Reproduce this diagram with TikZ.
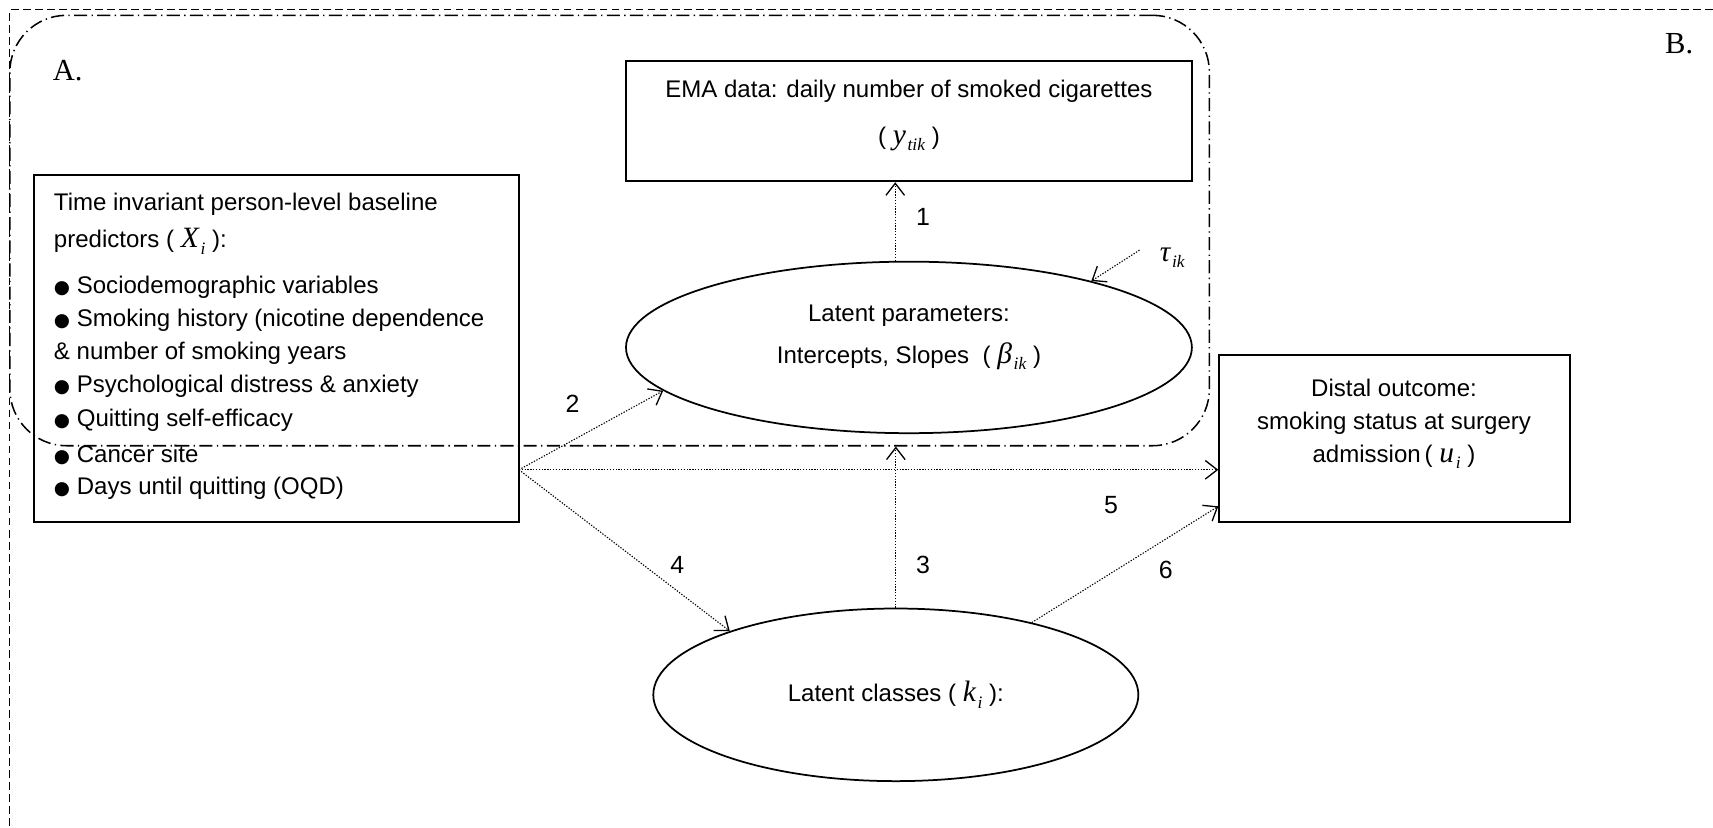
\documentclass[tikz,border=0pt]{standalone}
\usepackage{fontspec}
\setmainfont{Liberation Sans}
\newfontfamily\tnr{Liberation Serif}
\newfontfamily\dejavu{DejaVu Sans}
\usetikzlibrary{shapes.geometric,arrows.meta,calc}
\newcommand\mv[2]{{\tnr\itshape\fontsize{13.5}{13.5}\selectfont #1}\kern0.8pt\raisebox{-0.5ex}{\tnr\itshape\fontsize{8}{8}\selectfont #2}}
\newcommand\blt{{\dejavu\fontsize{8.5}{8.5}\selectfont ●}\ }
\begin{document}
\begin{tikzpicture}[x=0.5pt,y=-0.5pt,
  font=\fontsize{11}{13}\selectfont,
  boxline/.style={draw, line width=0.8pt, inner sep=0pt},
  txt/.style={inner sep=0pt},
  lbl/.style={inner sep=0pt, font=\fontsize{11.4}{13}\selectfont},
  arr/.style={line width=0.5pt, dash pattern=on 0.6pt off 0.7pt,
     -{Straight Barb[length=5.5pt,width=8.5pt,line width=0.6pt]}},
  outerline/.style={line width=0.6pt, dash pattern=on 3.5pt off 2pt},
  regline/.style={line width=0.7pt, dash pattern=on 6pt off 2pt on 0.6pt off 2pt}]
\useasboundingbox (0,0) rectangle (1568,757);

% outer region B
\draw[outerline] (1568,9) -- (9,9) -- (9,757);
\node[txt, font=\tnr\fontsize{14}{14}\selectfont] (labB) at (1537,40) {B.};

% region A
\node[regline, draw, rounded corners=26pt, minimum width=549pt, minimum height=197pt, inner sep=0pt] (regA) at (558,211) {};
\node[txt, font=\tnr\fontsize{14}{14}\selectfont] (labA) at (62,65) {A.};

% EMA box
\node[boxline, minimum width=259pt, minimum height=55pt] (ema) at (832,111) {};
\node[txt] (emat1) at (832,84) {EMA data: daily number of smoked cigarettes};
\node[txt] (emat2) at (832,127) {( \mv{y}{tik} )};

% predictors box
\node[boxline, minimum width=222pt, minimum height=159pt] (pred) at (253,319) {};
\node[txt, anchor=west] (p1) at (49,187) {Time invariant person-level baseline};
\node[txt, anchor=west] (p2) at (49,221) {predictors ( \mv{X}{i} ):};
\node[txt, anchor=west] (p3) at (49,263) {\blt Sociodemographic variables};
\node[txt, anchor=west] (p4) at (49,293) {\blt Smoking history (nicotine dependence};
\node[txt, anchor=west] (p5) at (49,323) {\& number of smoking years};
\node[txt, anchor=west] (p6) at (49,354) {\blt Psychological distress \& anxiety};
\node[txt, anchor=west] (p7) at (49,385) {\blt Quitting self-efficacy};
\node[txt, anchor=west] (p8) at (49,416) {\blt Cancer site};
\node[txt, anchor=west] (p9) at (49,447) {\blt Days until quitting (OQD)};

% latent parameters
\node[boxline, ellipse, minimum width=259pt, minimum height=78.5pt] (params) at (832,318) {};
\node[txt] (part1) at (832,289) {Latent parameters:};
\node[txt] (part2) at (832,326) {Intercepts, Slopes \ ( \mv{\char"03B2}{ik} )};

% distal outcome
\node[boxline, minimum width=160.5pt, minimum height=76.5pt] (distal) at (1276.5,401.5) {};
\node[txt] (dt1) at (1276,355) {Distal outcome:};
\node[txt] (dt2) at (1276,387) {smoking status at surgery};
\node[txt] (dt3) at (1276,418) {admission\,( \mv{u}{i} )};

% latent classes
\node[boxline, ellipse, minimum width=222pt, minimum height=79pt] (classes) at (820,636) {};
\node[txt] (ct) at (820,636) {Latent classes ( \mv{k}{i} ):};

% tau
\node[txt] (tau) at (1073,236) {\mv{\char"03C4}{ik}};
\coordinate (tauarr) at (1043,229);
\coordinate (src) at (475,430);

% connectors
\draw[arr] (params.99) -- (params.99 |- ema.south);
\draw[arr] (tauarr) -- (params.20);
\draw[arr] (src) -- (params.190);
\draw[arr] (src) -- (src -| distal.west);
\draw[arr] (src) -- (classes.159);
\draw[arr] (classes.north) -- (classes.north |- regA.south);
\draw[arr] (classes.28) -- (distal.201.6);

% connector labels
\node[lbl] (l1) at (845,199) {1};
\node[lbl] (l2) at (524,370) {2};
\node[lbl] (l3) at (845,517) {3};
\node[lbl] (l4) at (620,517) {4};
\node[lbl] (l5) at (1017,462) {5};
\node[lbl] (l6) at (1067,522) {6};
\end{tikzpicture}
\end{document}
